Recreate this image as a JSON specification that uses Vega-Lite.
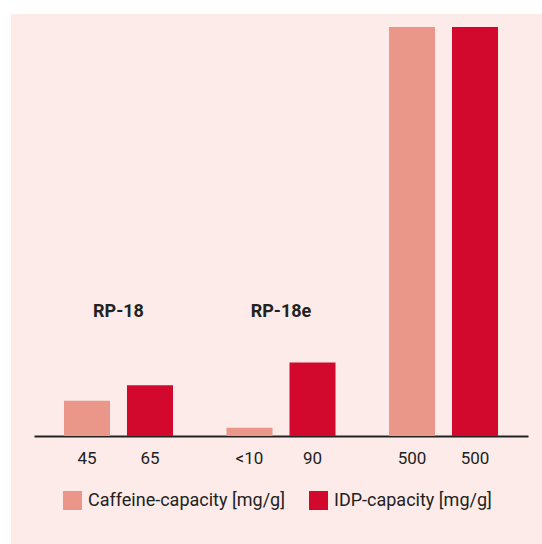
{
  "$schema": "https://vega.github.io/schema/vega-lite/v6.json",
  "width": 531,
  "height": 530,
  "autosize": "none",
  "padding": {"left": 11, "top": 14, "right": 0, "bottom": 0},
  "background": "white",
  "config": {"view": {"fill": "#fcebe8", "stroke": null}, "font": "Roboto"},
  "data": {"values": [
    {"group": "RP-18", "series": "Caffeine-capacity [mg/g]", "value": 43, "label": "45"},
    {"group": "RP-18", "series": "IDP-capacity [mg/g]", "value": 62, "label": "65"},
    {"group": "RP-18e", "series": "Caffeine-capacity [mg/g]", "value": 10, "label": "<10"},
    {"group": "RP-18e", "series": "IDP-capacity [mg/g]", "value": 90, "label": "90"},
    {"group": "(unlabelled)", "series": "Caffeine-capacity [mg/g]", "value": 500, "label": "500"},
    {"group": "(unlabelled)", "series": "IDP-capacity [mg/g]", "value": 500, "label": "500"}
  ]},
  "layer": [
    {
      "mark": {"type": "bar"},
      "encoding": {
        "x": {"field": "group", "type": "nominal", "sort": null,
          "scale": {"range": [23, 517], "paddingInner": 0, "paddingOuter": 0.02},
          "axis": {"labels": false, "ticks": false, "title": null, "grid": false, "domainColor": "#222222", "domainWidth": 2, "offset": -108}},
        "xOffset": {"field": "series", "type": "nominal", "sort": null,
          "scale": {"paddingInner": 0.27, "paddingOuter": 0.4246}},
        "y": {"field": "value", "type": "quantitative",
          "scale": {"domain": [-132, 516], "nice": false, "zero": false}, "axis": null},
        "y2": {"datum": 0},
        "color": {"field": "series", "type": "nominal", "sort": null,
          "scale": {"domain": ["Caffeine-capacity [mg/g]", "IDP-capacity [mg/g]"], "range": ["#ea9689", "#d3082d"]},
          "legend": {"orient": "none", "legendX": 52, "legendY": 477, "direction": "horizontal", "title": null,
            "symbolType": "square", "symbolSize": 361, "symbolStrokeWidth": 0, "symbolOpacity": 1,
            "labelFontSize": 18, "labelColor": "#222222", "labelOffset": 6, "columnPadding": 24, "labelLimit": 400}}
      }
    },
    {
      "transform": [{"filter": "datum.series == 'Caffeine-capacity [mg/g]' && datum.group != '(unlabelled)'"}],
      "mark": {"type": "text", "fontWeight": "bold", "fontSize": 18, "baseline": "middle", "color": "#222222"},
      "encoding": {
        "x": {"field": "group", "type": "nominal", "sort": null},
        "y": {"datum": 152},
        "text": {"field": "group"}
      }
    },
    {
      "mark": {"type": "text", "fontSize": 17, "baseline": "middle", "dy": 23, "color": "#222222"},
      "encoding": {
        "x": {"field": "group", "type": "nominal", "sort": null},
        "xOffset": {"field": "series", "type": "nominal", "sort": null},
        "y": {"datum": 0},
        "text": {"field": "label"}
      }
    }
  ]
}
